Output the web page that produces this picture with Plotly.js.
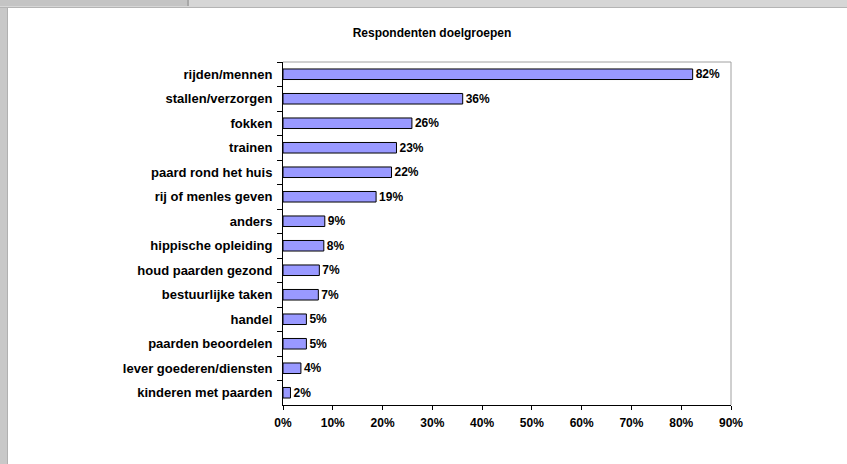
<!DOCTYPE html>
<html>
<head>
<meta charset="utf-8">
<script src="https://cdn.plot.ly/plotly-3.0.1.min.js"></script>
<style>
  html, body { margin: 0; padding: 0; background: #ffffff; }
  #wrap { position: relative; width: 847px; height: 464px; overflow: hidden; background: #ffffff; }
  #chart { position: absolute; left: 0; top: 0; width: 847px; height: 464px; }
  #topband { position: absolute; left: 0; top: 0; width: 847px; height: 7px; background: #d6d6d6; border-bottom: 1px solid #b4b4b4; }
  #topbox { position: absolute; left: 0; top: 0; width: 187px; height: 6px; background: #c4c4c4; border-right: 2px solid #a8a8a8; }
  #leftband { position: absolute; left: 0; top: 8px; width: 7px; height: 456px; background: #c8c8c8; border-right: 1px solid #b0b0b0; }
</style>
</head>
<body>
<div id="wrap">
  <div id="chart"></div>
  <div id="topband"></div>
  <div id="topbox"></div>
  <div id="leftband"></div>
</div>
<script>
// Categories (top to bottom)
var categories = [
  "rijden/mennen",
  "stallen/verzorgen",
  "fokken",
  "trainen",
  "paard rond het huis",
  "rij of menles geven",
  "anders",
  "hippische opleiding",
  "houd paarden gezond",
  "bestuurlijke taken",
  "handel",
  "paarden beoordelen",
  "lever goederen/diensten",
  "kinderen met paarden"
];
// Percentage of respondents
var values = [82.3, 36.1, 25.9, 22.8, 21.8, 18.7, 8.4, 8.2, 7.3, 7.1, 4.7, 4.7, 3.6, 1.5];
// Data labels as printed on the chart
var valueLabels = ["82%", "36%", "26%", "23%", "22%", "19%", "9%", "8%", "7%", "7%", "5%", "5%", "4%", "2%"];
// X axis ticks
var xTickValues = [0, 10, 20, 30, 40, 50, 60, 70, 80, 90];
var xTickLabels = ["0%", "10%", "20%", "30%", "40%", "50%", "60%", "70%", "80%", "90%"];
var chartTitle = "Respondenten doelgroepen";

var FONT = "'Liberation Sans', Arial, sans-serif";

var trace = {
  type: "bar",
  orientation: "h",
  x: values,
  y: categories,
  text: valueLabels,
  textposition: "outside",
  constraintext: "none",
  cliponaxis: false,
  textfont: { family: FONT, size: 12, color: "#000000", weight: "bold" },
  marker: { color: "#9999ff", line: { color: "#000000", width: 1 } },
  hoverinfo: "none"
};

var layout = {
  width: 847,
  height: 464,
  paper_bgcolor: "#ffffff",
  plot_bgcolor: "#ffffff",
  showlegend: false,
  bargap: 0.57,
  uniformtext: { mode: false },
  margin: { l: 283, r: 116, t: 62, b: 59, pad: 0 },
  title: {
    text: chartTitle,
    font: { family: FONT, size: 12, color: "#000000", weight: "bold" },
    x: 432 / 847, xref: "container", xanchor: "center",
    y: 1 - 33 / 464, yref: "container", yanchor: "middle"
  },
  xaxis: {
    range: [0, 90],
    tickvals: xTickValues,
    ticktext: xTickLabels,
    ticks: "outside",
    ticklen: 4,
    tickcolor: "#000000",
    showline: true,
    linecolor: "#000000",
    linewidth: 1,
    showgrid: false,
    zeroline: false,
    ticklabelstandoff: 3,
    tickfont: { family: FONT, size: 12, color: "#000000", weight: "bold" },
    fixedrange: true
  },
  yaxis: {
    type: "category",
    autorange: "reversed",
    ticks: "outside",
    tickson: "boundaries",
    ticklen: 5,
    tickcolor: "#000000",
    showline: true,
    linecolor: "#000000",
    linewidth: 1,
    showgrid: false,
    zeroline: false,
    ticklabelstandoff: 7,
    tickfont: { family: FONT, size: 13, color: "#000000", weight: "bold" },
    fixedrange: true
  },
  shapes: [
    { type: "line", xref: "paper", yref: "paper", x0: 0, x1: 1, y0: 1, y1: 1, line: { color: "#a0a0a0", width: 1 } },
    { type: "line", xref: "paper", yref: "paper", x0: 1, x1: 1, y0: 0, y1: 1, line: { color: "#a0a0a0", width: 1 } }
  ]
};

Plotly.newPlot("chart", [trace], layout, { displayModeBar: false, staticPlot: true });
</script>
</body>
</html>
